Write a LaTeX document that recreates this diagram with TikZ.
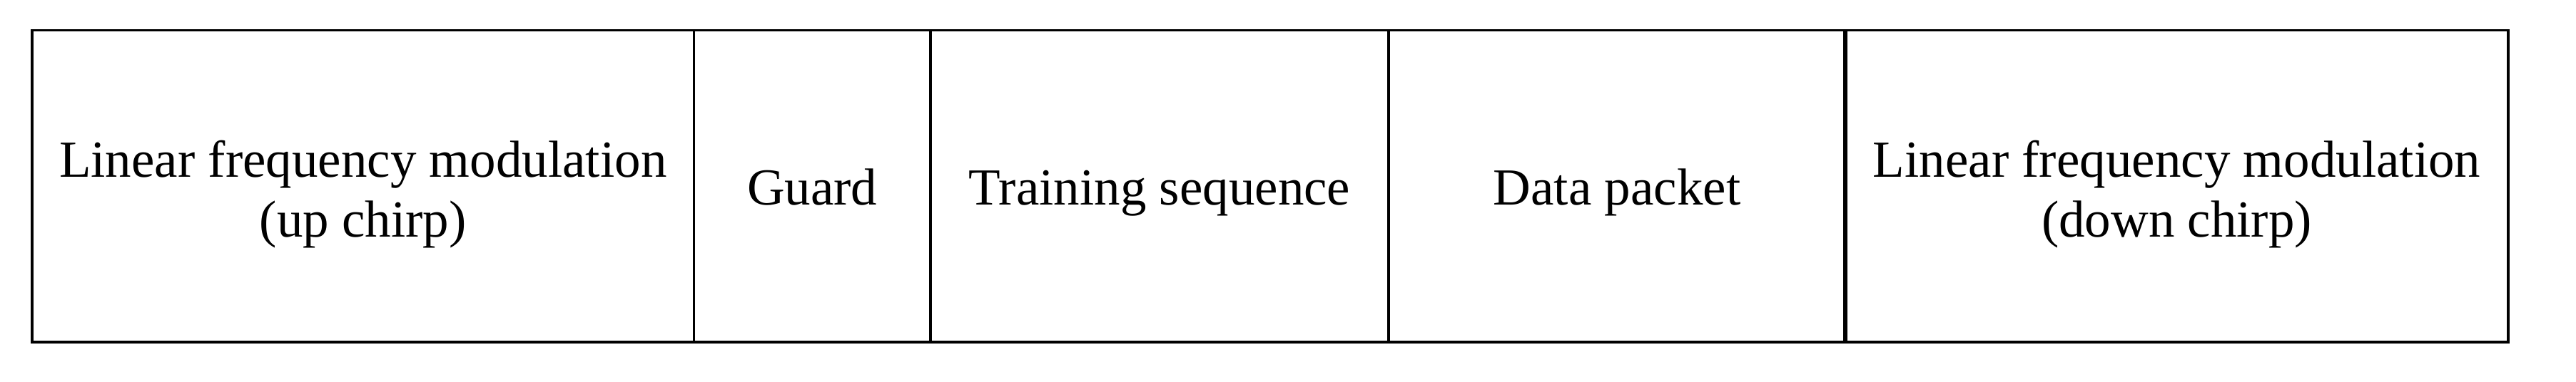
\documentclass[tikz,border=0pt]{standalone}
\usepackage{fontspec}
\setmainfont{Liberation Serif}
\newcommand{\lowline}[1]{\raisebox{-2.2pt}[\height][\depth]{#1}}
\begin{document}
\begin{tikzpicture}[
  cell/.style={draw=black, line width=0.7pt, inner sep=0pt, outer sep=0pt,
    minimum height=87.5pt, align=center,
    font=\fontsize{14.6pt}{16.8pt}\selectfont},
  oneline/.style={text height=10.4pt, text depth=0pt},
]
\useasboundingbox (0,0) rectangle (722pt,107pt);
\node[cell, minimum width=185.5pt] (c1) at (101.75pt,54.75pt) {\lowline{Linear frequency modulation}\\\lowline{(up chirp)}};
\node[cell, oneline, minimum width=66.3pt]  (c2) at (227.65pt,54.75pt) {Guard};
\node[cell, oneline, minimum width=128.4pt] (c3) at (325pt,54.75pt) {Training sequence};
\node[cell, oneline, minimum width=128pt]   (c4) at (453.2pt,54.75pt) {Data packet};
\node[cell, minimum width=185.8pt] (c5) at (610.1pt,54.75pt) {\lowline{Linear frequency modulation}\\\lowline{(down chirp)}};
\draw[line width=1.3pt] (c4.north east) -- (c4.south east);
\end{tikzpicture}
\end{document}
